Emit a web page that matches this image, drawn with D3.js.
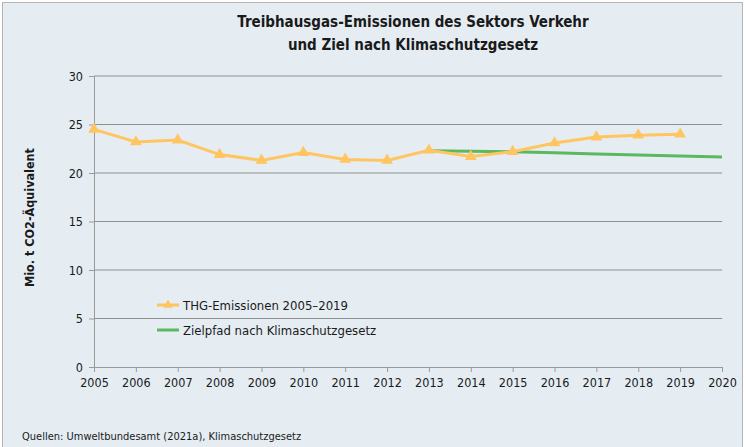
<!DOCTYPE html>
<html>
<head>
<meta charset="utf-8">
<script src="https://cdn.jsdelivr.net/npm/d3@7"></script>
<style>
  body { margin: 0; background: #fff; }
  svg text { font-family: "Liberation Sans Narrow", "DejaVu Sans Condensed", Lato, sans-serif; }
</style>
</head>
<body>
<svg id="chart" width="746" height="447"></svg>
<script>
const years = [2005, 2006, 2007, 2008, 2009, 2010, 2011, 2012, 2013, 2014, 2015, 2016, 2017, 2018, 2019, 2020];
const emissionYears = [2005, 2006, 2007, 2008, 2009, 2010, 2011, 2012, 2013, 2014, 2015, 2016, 2017, 2018, 2019];
const emissions = [24.5, 23.2, 23.4, 21.9, 21.3, 22.1, 21.4, 21.3, 22.35, 21.7, 22.2, 23.1, 23.7, 23.9, 24.0];
const targetYears = [2013, 2014, 2015, 2016, 2017, 2018, 2019, 2020];
const target = [22.3, 22.25, 22.2, 22.1, 21.95, 21.85, 21.75, 21.65];
const yTicks = [0, 5, 10, 15, 20, 25, 30];

const orange = "#ffc561";
const green = "#5cb85e";

var svg = d3.select("#chart");
var margin = { top: 76, right: 24, bottom: 80, left: 94 };
var width = +svg.attr("width") - margin.left - margin.right;
var height = +svg.attr("height") - margin.top - margin.bottom;

// background + frame
svg.append("rect")
  .attr("x", 2.5).attr("y", 2.5)
  .attr("width", 740).attr("height", 450)
  .attr("fill", "#e5edf3")
  .attr("stroke", "#b5b5b5");

svg.append("text")
  .attr("x", 413).attr("y", 27)
  .attr("text-anchor", "middle")
  .style("font-size", "15px").style("font-weight", "bold")
  .attr("fill", "#1a1a1a")
  .text("Treibhausgas-Emissionen des Sektors Verkehr");
svg.append("text")
  .attr("x", 413).attr("y", 50)
  .attr("text-anchor", "middle")
  .style("font-size", "15px").style("font-weight", "bold")
  .attr("fill", "#1a1a1a")
  .text("und Ziel nach Klimaschutzgesetz");

var g = svg.append("g").attr("transform", `translate(${margin.left},${margin.top})`);

var x = d3.scaleLinear().domain([2005, 2020]).range([0, width]);
var y = d3.scaleLinear().domain([0, 30]).range([height, 0]);

// gridlines
g.selectAll(".grid")
  .data(yTicks.filter(d => d > 0))
  .enter().append("line")
  .attr("x1", 0).attr("x2", width)
  .attr("y1", d => y(d)).attr("y2", d => y(d))
  .attr("stroke", "#8f8f8f").attr("stroke-width", 1);

var yAxis = g.append("g")
  .call(d3.axisLeft(y).tickValues(yTicks).tickSize(5).tickPadding(6));
var xAxis = g.append("g")
  .attr("transform", `translate(0, ${height})`)
  .call(d3.axisBottom(x).tickValues(years).tickFormat(d3.format("d")).tickSize(5).tickPadding(6));

[xAxis, yAxis].forEach(a => {
  a.select(".domain").attr("stroke", "#9a9a9a");
  a.selectAll(".tick line").attr("stroke", "#9a9a9a");
  a.selectAll(".tick text").attr("fill", "#1a1a1a").style("font-size", "12.5px");
});

g.append("text")
  .attr("transform", "rotate(-90)")
  .attr("x", -height / 2 + 4)
  .attr("y", -60)
  .attr("text-anchor", "middle")
  .style("font-size", "12.5px").style("font-weight", "bold")
  .attr("fill", "#1a1a1a")
  .text("Mio. t CO2-Äquivalent");

// target line
var targetData = targetYears.map((yr, i) => ({ year: yr, v: target[i] }));
g.append("path")
  .datum(targetData)
  .attr("fill", "none")
  .attr("stroke", green)
  .attr("stroke-width", 3)
  .attr("d", d3.line().x(d => x(d.year)).y(d => y(d.v)));

// emissions line
var emData = emissionYears.map((yr, i) => ({ year: yr, v: emissions[i] }));
g.append("path")
  .datum(emData)
  .attr("fill", "none")
  .attr("stroke", orange)
  .attr("stroke-width", 3)
  .attr("d", d3.line().x(d => x(d.year)).y(d => y(d.v)));

var tri = d3.symbol().type(d3.symbolTriangle).size(60);
g.selectAll(".marker")
  .data(emData)
  .enter().append("path")
  .attr("transform", d => `translate(${x(d.year)},${y(d.v)})`)
  .attr("d", tri)
  .attr("fill", orange);

// legend
var legend = svg.append("g").attr("transform", "translate(157, 305)");
legend.append("line")
  .attr("x1", 0).attr("x2", 22).attr("y1", 0).attr("y2", 0)
  .attr("stroke", orange).attr("stroke-width", 3);
legend.append("path")
  .attr("transform", "translate(11,0)")
  .attr("d", d3.symbol().type(d3.symbolTriangle).size(40))
  .attr("fill", orange);
legend.append("text")
  .attr("x", 26).attr("y", 5)
  .style("font-size", "13px").attr("fill", "#1a1a1a")
  .text("THG-Emissionen 2005–2019");
legend.append("line")
  .attr("x1", 0).attr("x2", 22).attr("y1", 25).attr("y2", 25)
  .attr("stroke", green).attr("stroke-width", 3);
legend.append("text")
  .attr("x", 26).attr("y", 30)
  .style("font-size", "13px").attr("fill", "#1a1a1a")
  .text("Zielpfad nach Klimaschutzgesetz");

svg.append("text")
  .attr("x", 22).attr("y", 440)
  .style("font-size", "11px").attr("fill", "#1a1a1a")
  .text("Quellen: Umweltbundesamt (2021a), Klimaschutzgesetz");
</script>
</body>
</html>
